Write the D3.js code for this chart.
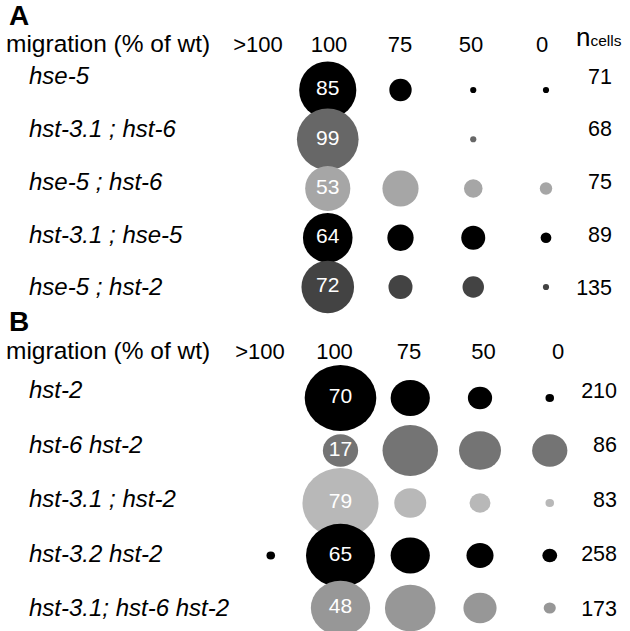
<!DOCTYPE html>
<html>
<head>
<meta charset="utf-8">
<script src="https://cdn.jsdelivr.net/npm/d3@7"></script>
<style>
  body { margin: 0; background: #fff; }
  text { font-family: "Liberation Sans", Arial, sans-serif; }
</style>
</head>
<body>
<svg id="chart" width="630" height="631"></svg>
<script>
// migration classes (columns)
var columns = [">100", "100", "75", "50", "0"];

// panel A
var genotypesA = ["hse-5", "hst-3.1 ; hst-6", "hse-5 ; hst-6", "hst-3.1 ; hse-5", "hse-5 ; hst-2"];
var percentA = [
    [0, 85, 13, 1, 1],
    [0, 99, 0, 1, 0],
    [0, 53, 34, 9, 4],
    [0, 64, 18, 15, 3],
    [0, 72, 15, 12, 1]
];
var ncellsA = [71, 68, 75, 89, 135];

// panel B
var genotypesB = ["hst-2", "hst-6 hst-2", "hst-3.1 ; hst-2", "hst-3.2 hst-2", "hst-3.1; hst-6 hst-2"];
var percentB = [
    [0, 70, 21, 8, 1],
    [0, 17, 42, 24, 17],
    [0, 79, 14, 6, 1],
    [1, 65, 21, 10, 3],
    [0, 48, 35, 15, 2]
];
var ncellsB = [210, 86, 83, 258, 173];

var svg = d3.select("#chart");

function drawPanel(opt) {
    var g = svg.append("g");

    var xScale = d3.scalePoint().domain(columns).range(opt.xRange);
    var headScale = d3.scalePoint().domain(columns).range(opt.headRange);
    // text rows and bubble rows are spaced a little differently in the figure
    var yLabel = d3.scalePoint().domain(opt.genotypes).range(opt.labelRange);
    var yScale = d3.scalePoint().domain(opt.genotypes).range(opt.yRange);
    var rScale = d3.scaleSqrt().domain([0, 100]).range([0, opt.rMax]);
    var shade = d3.scaleOrdinal().domain(opt.genotypes).range(opt.shades);

    // panel letter
    g.append("text")
        .attr("x", 9)
        .attr("y", opt.letterY)
        .style("font-size", "28px")
        .style("font-weight", "bold")
        .text(opt.letter);

    // header row
    g.append("text")
        .attr("x", 6)
        .attr("y", opt.headY)
        .style("font-size", "24.5px")
        .text("migration (% of wt)");

    g.append("g").selectAll("text")
        .data(columns)
        .enter()
        .append("text")
        .attr("x", d => headScale(d))
        .attr("y", opt.headY)
        .attr("text-anchor", "middle")
        .style("font-size", "22px")
        .text(d => d);

    if (opt.showN) {
        var nt = g.append("text")
            .attr("x", 576)
            .attr("y", opt.headY - 6)
            .style("font-size", "26px");
        nt.append("tspan").text("n");
        nt.append("tspan").style("font-size", "15.5px").text("cells");
    }

    // rows
    var rows = opt.genotypes.map(function (name, i) {
        return {name: name, values: opt.percent[i], n: opt.ncells[i]};
    });

    g.append("g").selectAll("text")
        .data(rows)
        .enter()
        .append("text")
        .attr("x", 29)
        .attr("y", d => yLabel(d.name))
        .attr("dy", "0.35em")
        .style("font-size", "24px")
        .style("font-style", "italic")
        .text(d => d.name);

    g.append("g").selectAll("text")
        .data(rows)
        .enter()
        .append("text")
        .attr("x", opt.nRight)
        .attr("y", d => yLabel(d.name))
        .attr("dy", "0.35em")
        .attr("text-anchor", "end")
        .style("font-size", "21.5px")
        .text(d => d.n);

    // bubbles
    var cells = [];
    rows.forEach(function (r) {
        r.values.forEach(function (v, j) {
            if (v > 0) cells.push({name: r.name, col: columns[j], v: v});
        });
    });

    g.append("g").selectAll("ellipse")
        .data(cells)
        .enter()
        .append("ellipse")
        .attr("cx", d => xScale(d.col))
        .attr("cy", d => yScale(d.name))
        .attr("rx", d => rScale(d.v))
        .attr("ry", d => rScale(d.v) * opt.aspect)
        .attr("fill", d => shade(d.name));

    // value labels in the 100 column
    g.append("g").selectAll("text")
        .data(cells.filter(d => d.col === "100"))
        .enter()
        .append("text")
        .attr("x", d => xScale(d.col))
        .attr("y", d => yScale(d.name) - 2)
        .attr("dy", "0.35em")
        .attr("text-anchor", "middle")
        .attr("fill", "#fff")
        .style("font-size", "21px")
        .text(d => d.v);
}

drawPanel({
    letter: "A", letterY: 25, headY: 51.5,
    genotypes: genotypesA, percent: percentA, ncells: ncellsA,
    shades: ["#000000", "#676767", "#a6a6a6", "#000000", "#434343"],
    xRange: [255, 546], headRange: [258, 542],
    labelRange: [76, 287], yRange: [90, 287],
    rMax: 31, aspect: 1, nRight: 612, showN: true
});

drawPanel({
    letter: "B", letterY: 331, headY: 359,
    genotypes: genotypesB, percent: percentB, ncells: ncellsB,
    shades: ["#000000", "#747474", "#b8b8b8", "#000000", "#979797"],
    xRange: [270.75, 549.75], headRange: [260, 558],
    labelRange: [390, 608], yRange: [398, 608],
    rMax: 42.8, aspect: 0.92, nRight: 617, showN: false
});
</script>
</body>
</html>
